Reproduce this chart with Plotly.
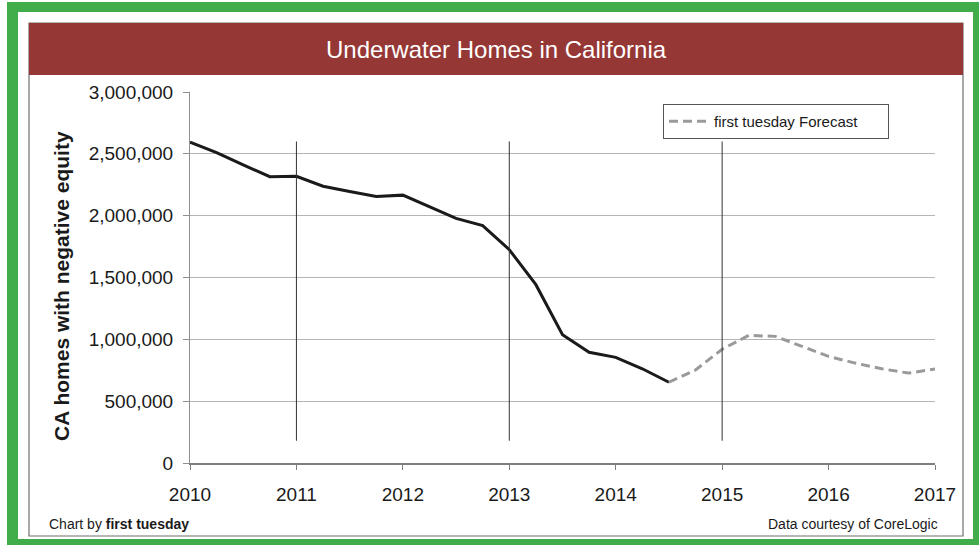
import plotly.graph_objects as go

# ---- data ----
actual_x = [2010.00, 2010.25, 2010.50, 2010.75, 2011.00, 2011.25, 2011.50, 2011.75,
            2012.00, 2012.25, 2012.50, 2012.75, 2013.00, 2013.25, 2013.50, 2013.75,
            2014.00, 2014.25, 2014.50]
actual_y = [2595000, 2510000, 2410000, 2315000, 2318000, 2238000, 2195000, 2155000,
            2166000, 2075000, 1978000, 1920000, 1725000, 1442000, 1038000, 895000,
            854000, 762000, 653000]

forecast_x = [2014.50, 2014.75, 2015.00, 2015.25, 2015.50, 2015.75, 2016.00,
              2016.25, 2016.50, 2016.75, 2017.00]
forecast_y = [653000, 752000, 920000, 1032000, 1024000, 943000, 862000,
              808000, 762000, 727000, 760000]

year_ticks = [2010, 2011, 2012, 2013, 2014, 2015, 2016, 2017]
y_ticks = [0, 500000, 1000000, 1500000, 2000000, 2500000, 3000000]
marker_years = [2011, 2013, 2015]
marker_span = [180000, 2600000]

title_text = "Underwater Homes in California"
y_title = "CA homes with negative equity"
forecast_name = "first tuesday Forecast"
credit_left = "Chart by <b>first tuesday</b>"
credit_right = "Data courtesy of CoreLogic"

# ---- layout geometry (pixels) ----
W, H = 979, 552
L, R, T, B = 190, 44, 92, 89
PW, PH = W - L - R, H - T - B


def px_x(px):
    return (px - L) / PW


def px_y(py):
    return (H - B - py) / PH


FONT = "Liberation Sans, Arial, sans-serif"
GREEN = "#41ad4a"
RED = "#953735"

fig = go.Figure()
fig.add_trace(go.Scatter(x=actual_x, y=actual_y, mode="lines",
                         line=dict(color="#1a1a1a", width=3),
                         showlegend=False, hoverinfo="skip"))
fig.add_trace(go.Scatter(x=forecast_x, y=forecast_y, mode="lines",
                         name=forecast_name + "&nbsp;" * 6,
                         line=dict(color="#9a9a9a", width=3, dash="9px,5px")))

shapes = [
    dict(type="rect", xref="paper", yref="paper", layer="below",
         x0=px_x(7), x1=px_x(979), y0=px_y(2), y1=px_y(545),
         fillcolor=GREEN, line=dict(width=0)),
    dict(type="rect", xref="paper", yref="paper", layer="below",
         x0=px_x(18), x1=px_x(973), y0=px_y(12), y1=px_y(539),
         fillcolor="white", line=dict(width=0)),
    dict(type="rect", xref="paper", yref="paper", layer="below",
         x0=px_x(29), x1=px_x(963), y0=px_y(23), y1=px_y(536),
         fillcolor="white", line=dict(color="#6f6f6f", width=1.2)),
    dict(type="rect", xref="paper", yref="paper", layer="below",
         x0=px_x(29), x1=px_x(963), y0=px_y(23), y1=px_y(75),
         fillcolor=RED, line=dict(width=0)),
]
for yr in marker_years:
    shapes.append(dict(type="line", xref="x", yref="y", layer="above",
                       x0=yr, x1=yr, y0=marker_span[0], y1=marker_span[1],
                       line=dict(color="#333333", width=1)))

annotations = [
    dict(text=title_text, xref="paper", yref="paper", x=px_x(496), y=px_y(49),
         xanchor="center", yanchor="middle", showarrow=False,
         font=dict(family=FONT, size=24, color="white")),
    dict(text="<b>" + y_title + "</b>", xref="paper", yref="paper",
         x=px_x(61), y=px_y(286), textangle=-90, xanchor="center", yanchor="middle",
         showarrow=False, font=dict(family=FONT, size=21, color="#1a1a1a")),
    dict(text=credit_left, xref="paper", yref="paper", x=px_x(47), y=px_y(524),
         xanchor="left", yanchor="middle", showarrow=False,
         font=dict(family=FONT, size=14, color="#1a1a1a")),
    dict(text=credit_right, xref="paper", yref="paper", x=px_x(940), y=px_y(524),
         xanchor="right", yanchor="middle", showarrow=False,
         font=dict(family=FONT, size=14, color="#1a1a1a")),
]

fig.update_layout(
    width=W, height=H,
    margin=dict(l=L, r=R, t=T, b=B, pad=0),
    paper_bgcolor="white",
    plot_bgcolor="rgba(0,0,0,0)",
    font=dict(family=FONT, size=19, color="#1a1a1a"),
    shapes=shapes,
    annotations=annotations,
    showlegend=True,
    legend=dict(x=px_x(663), y=px_y(104), xanchor="left", yanchor="top",
                bgcolor="white", bordercolor="#555555", borderwidth=1,
                font=dict(family=FONT, size=15, color="#1a1a1a"),
                itemwidth=40),
    xaxis=dict(range=[year_ticks[0], year_ticks[-1]], tickvals=year_ticks,
               ticktext=[str(y) for y in year_ticks],
               showgrid=False, zeroline=False, showline=True,
               linecolor="#7f7f7f", linewidth=1.5,
               ticks="outside", ticklen=5, tickcolor="#7f7f7f",
               ticklabelstandoff=8,
               tickfont=dict(family=FONT, size=19, color="#1a1a1a")),
    yaxis=dict(range=[0, 3000000], tickvals=y_ticks, tickformat=",",
               showgrid=True, gridcolor="#b5b5b5", gridwidth=1,
               zeroline=False, showline=True, linecolor="#8f8f8f", linewidth=1,
               ticks="outside", ticklen=6, tickcolor="#8f8f8f",
               ticklabelstandoff=6,
               tickfont=dict(family=FONT, size=19, color="#1a1a1a")),
)

fig.write_html("out.html", config={"displayModeBar": False},
               post_script="document.body.style.margin='0px';")
